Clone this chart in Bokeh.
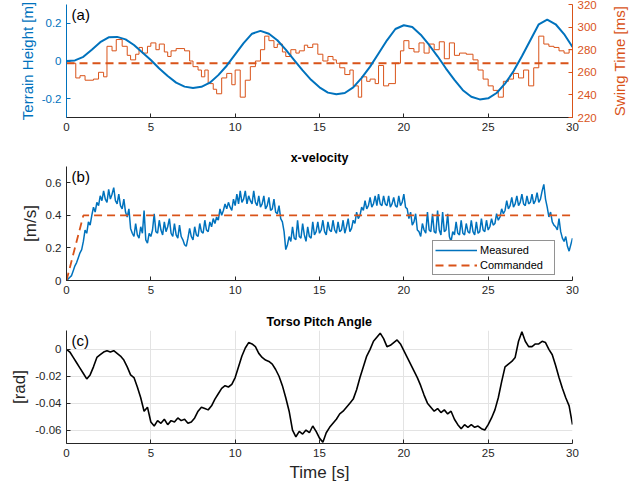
import numpy as np
from bokeh.plotting import figure
from bokeh.models import Range1d, LinearAxis, FixedTicker, Label, Legend, LegendItem
from bokeh.layouts import column, row
from bokeh.embed import file_html
from bokeh.resources import INLINE

# ---------------- data ----------------
x_ticks = [0, 5, 10, 15, 20, 25, 30]
x_tick_labels = ["0", "5", "10", "15", "20", "25", "30"]

# (a) terrain height [m], sampled every 0.5 s
terrain_dt = 0.5
terrain_m = [
    0.000, 0.003, 0.022, 0.060, 0.100, 0.126, 0.128, 0.115, 0.085, 0.045,
    0.005, -0.040, -0.080, -0.115, -0.136, -0.143, -0.137, -0.115, -0.075, -0.025,
    0.035, 0.095, 0.145, 0.160, 0.145, 0.110, 0.060, 0.005, -0.050, -0.100,
    -0.140, -0.168, -0.176, -0.170, -0.140, -0.090, -0.030, 0.040, 0.110, 0.170,
    0.190, 0.180, 0.140, 0.085, 0.025, -0.040, -0.100, -0.155, -0.190, -0.204,
    -0.198, -0.170, -0.120, -0.055, 0.025, 0.110, 0.195, 0.220, 0.195, 0.143,
    0.074,
]
terrain_ticks = [-0.2, 0, 0.2]
terrain_tick_labels = ["-0.2", "0", "0.2"]

# (a) swing time [ms], step starts [s] and values
swing_start = [
    0.0, 0.55, 0.8, 1.1, 1.6, 1.9, 2.2, 2.4, 2.7, 2.95,
    3.3, 3.6, 3.8, 4.1, 4.3, 4.5, 4.8, 5.0, 5.3, 5.5,
    5.8, 6.0, 6.2, 6.5, 7.0, 7.3, 7.5, 7.8, 8.0, 8.2,
    8.4, 8.7, 8.9, 9.2, 9.5, 9.8, 10.0, 10.3, 10.6, 10.9,
    11.2, 11.5, 11.75, 12.0, 12.3, 12.5, 12.8, 13.0, 13.3, 13.6,
    13.8, 14.1, 14.3, 14.6, 14.9, 15.2, 15.5, 15.8, 16.0, 16.2,
    16.5, 16.8, 17.0, 17.3, 17.5, 17.8, 18.0, 18.3, 18.5, 18.8,
    19.1, 19.5, 19.8, 20.0, 20.3, 20.6, 20.9, 21.2, 21.5, 21.8,
    22.1, 22.4, 22.7, 23.0, 23.3, 23.7, 24.1, 24.4, 24.7, 25.0,
    25.3, 25.6, 25.9, 26.2, 26.5, 26.8, 27.1, 27.4, 27.7, 28.0,
    28.3, 28.6, 28.9, 29.2, 29.5, 29.8,
]
swing_ms = [
    268, 255, 257, 253, 254, 260, 256, 283, 279, 289,
    283, 275, 271, 276, 282, 277, 283, 286, 280, 285,
    278, 274, 279, 281, 279, 270, 265, 262, 256, 262,
    250, 245, 241, 255, 259, 249, 262, 238, 253, 265,
    270, 280, 292, 288, 282, 285, 278, 274, 280, 277,
    279, 284, 282, 285, 276, 270, 274, 271, 268, 264,
    258, 262, 248, 238, 256, 252, 254, 250, 266, 248,
    250, 268, 279, 288, 281, 278, 286, 277, 285, 280,
    287, 272, 286, 275, 277, 276, 271, 262, 254, 248,
    244, 238, 252, 254, 259, 255, 262, 248, 264, 292,
    285, 283, 282, 279, 277, 280,
]
swing_end = 30.0
swing_cmd_t = [0.0, 30.0]
swing_cmd_ms = [268, 268]
swing_ticks = [220, 240, 260, 280, 300, 320]

# (b) x-velocity [m/s], sampled every 0.1 s
vel_dt = 0.1
vel_measured = [
    0.00, 0.01, 0.02, 0.03, 0.06, 0.09, 0.11, 0.14, 0.17, 0.19,
    0.24, 0.31, 0.29, 0.36, 0.34, 0.40, 0.45, 0.42, 0.48, 0.46,
    0.52, 0.49, 0.55, 0.50, 0.48, 0.56, 0.50, 0.53, 0.57, 0.49,
    0.47, 0.53, 0.46, 0.44, 0.50, 0.42, 0.39, 0.44, 0.32, 0.29,
    0.27, 0.35, 0.28, 0.26, 0.33, 0.29, 0.43, 0.25, 0.23, 0.29,
    0.27, 0.31, 0.41, 0.30, 0.29, 0.37, 0.31, 0.28, 0.36, 0.30,
    0.33, 0.38, 0.29, 0.27, 0.35, 0.28, 0.26, 0.34, 0.27, 0.25,
    0.22, 0.21, 0.26, 0.32, 0.27, 0.25, 0.33, 0.28, 0.27, 0.35,
    0.30, 0.29, 0.37, 0.31, 0.30, 0.36, 0.33, 0.38, 0.35, 0.39,
    0.37, 0.44, 0.40, 0.43, 0.47, 0.44, 0.48, 0.45, 0.43, 0.50,
    0.46, 0.53, 0.47, 0.55, 0.48, 0.50, 0.55, 0.47, 0.52, 0.49,
    0.47, 0.55, 0.48, 0.46, 0.52, 0.45, 0.47, 0.52, 0.44, 0.46,
    0.51, 0.43, 0.44, 0.50, 0.42, 0.41, 0.46, 0.38, 0.36, 0.30,
    0.19, 0.22, 0.27, 0.24, 0.33, 0.26, 0.25, 0.37, 0.27, 0.26,
    0.35, 0.28, 0.24, 0.33, 0.27, 0.26, 0.36, 0.28, 0.30, 0.36,
    0.29, 0.31, 0.37, 0.30, 0.28, 0.36, 0.31, 0.30, 0.37, 0.31,
    0.29, 0.36, 0.30, 0.31, 0.37, 0.29, 0.33, 0.38, 0.30, 0.32,
    0.37, 0.35, 0.42, 0.38, 0.40, 0.45, 0.43, 0.49, 0.44, 0.46,
    0.51, 0.45, 0.47, 0.52, 0.46, 0.53, 0.47, 0.46, 0.52, 0.47,
    0.46, 0.52, 0.45, 0.47, 0.51, 0.46, 0.45, 0.52, 0.46, 0.48,
    0.53, 0.45, 0.44, 0.38, 0.42, 0.34, 0.36, 0.41, 0.31, 0.30,
    0.27, 0.35, 0.31, 0.29, 0.42, 0.31, 0.30, 0.41, 0.30, 0.29,
    0.43, 0.31, 0.28, 0.42, 0.30, 0.31, 0.41, 0.27, 0.24, 0.30,
    0.28, 0.36, 0.29, 0.28, 0.37, 0.29, 0.28, 0.35, 0.30, 0.29,
    0.37, 0.30, 0.28, 0.36, 0.29, 0.30, 0.38, 0.31, 0.30, 0.37,
    0.31, 0.33, 0.38, 0.34, 0.35, 0.41, 0.37, 0.39, 0.44, 0.41,
    0.43, 0.49, 0.44, 0.46, 0.51, 0.45, 0.47, 0.52, 0.46, 0.48,
    0.53, 0.47, 0.46, 0.52, 0.47, 0.48, 0.53, 0.47, 0.49, 0.54,
    0.48, 0.50, 0.55, 0.59, 0.50, 0.45, 0.39, 0.42, 0.36, 0.34,
    0.33, 0.31, 0.38, 0.30, 0.26, 0.24, 0.27, 0.21, 0.18, 0.22,
    0.26,
]
vel_cmd_t = [0.0, 1.0, 30.0]
vel_cmd = [0.0, 0.4, 0.4]
vel_ticks = [0, 0.2, 0.4, 0.6]
vel_tick_labels = ["0", "0.2", "0.4", "0.6"]

# (c) torso pitch angle [rad], sampled every 0.2 s
pitch_dt = 0.2
pitch_rad = [
    0.000, -0.002, -0.006, -0.010, -0.014,
    -0.018, -0.022, -0.019, -0.013, -0.006,
    -0.004, -0.002, -0.001, -0.002, -0.001,
    -0.003, -0.005, -0.008, -0.013, -0.019,
    -0.021, -0.028, -0.036, -0.046, -0.043,
    -0.054, -0.057, -0.053, -0.055, -0.052,
    -0.056, -0.053, -0.054, -0.051, -0.053,
    -0.052, -0.055, -0.054, -0.051, -0.046,
    -0.043, -0.044, -0.045, -0.042, -0.037,
    -0.033, -0.029, -0.027, -0.028, -0.026,
    -0.021, -0.013, -0.005, 0.001, 0.005,
    0.004, 0.002, -0.003, -0.006, -0.008,
    -0.009, -0.011, -0.015, -0.020, -0.027,
    -0.036, -0.046, -0.060, -0.065, -0.061,
    -0.063, -0.060, -0.062, -0.057, -0.061,
    -0.066, -0.069, -0.062, -0.058, -0.055,
    -0.052, -0.048, -0.046, -0.043, -0.040,
    -0.037, -0.030, -0.021, -0.013, -0.005,
    0.000, 0.006, 0.009, 0.012, 0.008,
    0.002, 0.003, 0.005, 0.007, 0.004,
    -0.001, -0.006, -0.011, -0.016, -0.021,
    -0.027, -0.034, -0.040, -0.043, -0.046,
    -0.044, -0.047, -0.045, -0.048, -0.046,
    -0.052, -0.056, -0.059, -0.056, -0.058,
    -0.056, -0.058, -0.057, -0.059, -0.060,
    -0.056, -0.051, -0.045, -0.036, -0.024,
    -0.013, -0.011, -0.009, -0.006, 0.006,
    0.013, 0.006, 0.002, 0.002, 0.004,
    0.004, 0.006, 0.005, 0.000, -0.004,
    -0.012, -0.021, -0.029, -0.036, -0.042,
    -0.056,
]
pitch_ticks = [-0.06, -0.04, -0.02, 0]
pitch_tick_labels = ["-0.06", "-0.04", "-0.02", "0"]

# ---------------- style ----------------
BLUE = "#0072BD"
ORANGE = "#D95319"
AX = "#262626"
FONT = "Liberation Sans"
TICK_FS = "11.5px"
LABEL_FS = "17px"
LABEL_A_FS = "15px"
W = 641
LEFT = 66
RIGHT = 69
STRIP_R = 41
A_H = 140
A_TOP = 4
A_BOTTOM = 23


def base_fig(width, height, left, right, top, bottom, title=None):
    p = figure(width=width, height=height, output_backend="svg", toolbar_location=None,
               x_range=Range1d(0, 30), min_border_left=left, min_border_right=right,
               min_border_top=top, min_border_bottom=bottom, title=title)
    p.outline_line_color = None
    p.background_fill_color = "white"
    p.border_fill_color = "white"
    p.xgrid.visible = False
    p.ygrid.visible = False
    if title is not None:
        p.title.text_font = FONT
        p.title.text_font_size = "12.5px"
        p.title.text_font_style = "bold"
        p.title.text_color = "black"
        p.title.align = "center"
        p.title.standoff = 4
    return p


def style_axis(ax, color, ticks, labels=None):
    ax.ticker = FixedTicker(ticks=ticks)
    if labels is not None:
        ax.major_label_overrides = {t: l for t, l in zip(ticks, labels)}
    ax.axis_line_color = color
    ax.major_tick_line_color = color
    ax.major_tick_in = 4
    ax.major_tick_out = 0
    ax.minor_tick_line_color = None
    ax.major_label_text_color = color
    ax.major_label_text_font = FONT
    ax.major_label_text_font_size = TICK_FS
    ax.major_label_standoff = 5
    ax.axis_label_text_font = FONT
    ax.axis_label_text_font_size = LABEL_FS
    ax.axis_label_text_font_style = "normal"
    ax.axis_label_text_color = color
    ax.axis_label_standoff = 3


def panel_label(p, text, y):
    p.add_layout(Label(x=0.3, y=y, text=text, text_baseline="top", text_align="left",
                       text_font=FONT, text_font_size="15px", text_color="black",
                       y_offset=-1))


# ---------------- (a) ----------------
pa = base_fig(W - STRIP_R, A_H, LEFT, RIGHT - STRIP_R, A_TOP, A_BOTTOM)
pa.y_range = Range1d(-0.3, 0.3)
pa.extra_y_ranges = {"swing": Range1d(220, 320)}
right_ax = LinearAxis(y_range_name="swing")
pa.add_layout(right_ax, "right")

t_terrain = np.arange(len(terrain_m)) * terrain_dt
pa.step(x=swing_start + [swing_end], y=swing_ms + [swing_ms[-1]], mode="after",
        y_range_name="swing", line_color=ORANGE, line_width=1)
pa.line(swing_cmd_t, swing_cmd_ms, y_range_name="swing", line_color=ORANGE,
        line_width=1.8, line_dash="8 5")
pa.line(t_terrain, terrain_m, line_color=BLUE, line_width=2)

style_axis(pa.xaxis[0], AX, x_ticks, x_tick_labels)
style_axis(pa.left[0], BLUE, terrain_ticks, terrain_tick_labels)
pa.left[0].axis_label = "Terrain Height [m]"
pa.left[0].axis_label_text_font_size = LABEL_A_FS
style_axis(right_ax, ORANGE, swing_ticks)
panel_label(pa, "(a)", 0.3)

# narrow strip carrying the right-hand label so it reads bottom-to-top
strip_r = figure(width=STRIP_R, height=A_H, output_backend="svg", toolbar_location=None,
                 x_range=Range1d(0, 1), y_range=Range1d(0, 1), x_axis_type=None,
                 min_border_left=32, min_border_right=0,
                 min_border_top=A_TOP, min_border_bottom=A_BOTTOM)
strip_r.outline_line_color = None
strip_r.xgrid.visible = False
strip_r.ygrid.visible = False
sax = strip_r.yaxis[0]
sax.ticker = FixedTicker(ticks=[])
sax.axis_line_color = None
sax.major_tick_line_color = None
sax.minor_tick_line_color = None
sax.major_label_text_font_size = "1px"
sax.major_label_standoff = 0
sax.major_tick_in = 0
sax.major_tick_out = 0
sax.axis_label = "Swing Time [ms]"
sax.axis_label_text_font = FONT
sax.axis_label_text_font_size = LABEL_A_FS
sax.axis_label_text_font_style = "normal"
sax.axis_label_text_color = ORANGE
sax.axis_label_standoff = 5

row_a = row(pa, strip_r, spacing=0)

# ---------------- (b) ----------------
pb = base_fig(W, 165, LEFT, RIGHT, 26, 25, title="x-velocity")
pb.y_range = Range1d(0, 0.7)
t_vel = np.arange(len(vel_measured)) * vel_dt
r_meas = pb.line(t_vel, vel_measured, line_color=BLUE, line_width=1.5)
r_cmd = pb.line(vel_cmd_t, vel_cmd, line_color=ORANGE, line_width=1.8, line_dash="8 5")
style_axis(pb.xaxis[0], AX, x_ticks, x_tick_labels)
style_axis(pb.yaxis[0], AX, vel_ticks, vel_tick_labels)
pb.yaxis[0].axis_label = "[m/s]"
panel_label(pb, "(b)", 0.7)

legend = Legend(items=[LegendItem(label="Measured", renderers=[r_meas]),
                       LegendItem(label="Commanded", renderers=[r_cmd])],
                location=(366, 5))
legend.label_text_font = FONT
legend.label_text_font_size = "11px"
legend.label_text_color = "black"
legend.glyph_width = 42
legend.glyph_height = 14
legend.label_height = 14
legend.label_width = 72
legend.label_standoff = 3
legend.padding = 2
legend.spacing = 1
legend.margin = 0
legend.border_line_color = AX
legend.border_line_width = 1
legend.background_fill_color = "white"
legend.background_fill_alpha = 1
pb.add_layout(legend)

# ---------------- (c) ----------------
pc = base_fig(W, 182, LEFT, RIGHT, 25, 44, title="Torso Pitch Angle")
pc.y_range = Range1d(-0.07, 0.014)
t_pitch = np.arange(len(pitch_rad)) * pitch_dt
pc.line(t_pitch, pitch_rad, line_color="black", line_width=1.6)
style_axis(pc.xaxis[0], AX, x_ticks, x_tick_labels)
style_axis(pc.yaxis[0], AX, pitch_ticks, pitch_tick_labels)
pc.xaxis[0].axis_label = "Time [s]"
pc.yaxis[0].axis_label = "[rad]"
pc.xgrid.visible = True
pc.ygrid.visible = True
pc.xgrid.ticker = FixedTicker(ticks=x_ticks)
pc.ygrid.ticker = FixedTicker(ticks=pitch_ticks)
pc.xgrid.grid_line_color = "#e3e3e3"
pc.ygrid.grid_line_color = "#e3e3e3"
panel_label(pc, "(c)", 0.014)

layout = column(row_a, pb, pc, spacing=0)
open("out.html", "w").write(file_html(layout, INLINE))
